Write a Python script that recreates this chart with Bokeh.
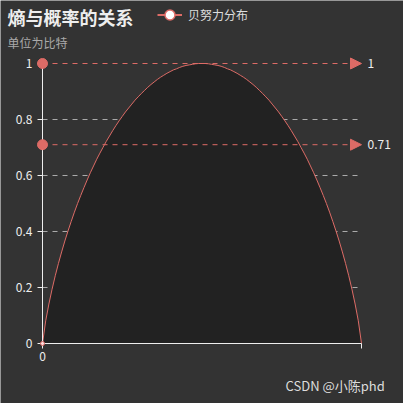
from bokeh.plotting import figure
from bokeh.models import (Range1d, Label, LabelSet, Arrow, NormalHead,
                          Legend, LegendItem, ColumnDataSource)
from bokeh.core.properties import value
from bokeh.embed import file_html
from bokeh.resources import INLINE

FONT = "Noto Sans CJK SC"

# probability p (category axis 0 .. 1, step 0.01)
p_values = [
    0.00, 0.01, 0.02, 0.03, 0.04, 0.05, 0.06, 0.07, 0.08, 0.09,
    0.10, 0.11, 0.12, 0.13, 0.14, 0.15, 0.16, 0.17, 0.18, 0.19,
    0.20, 0.21, 0.22, 0.23, 0.24, 0.25, 0.26, 0.27, 0.28, 0.29,
    0.30, 0.31, 0.32, 0.33, 0.34, 0.35, 0.36, 0.37, 0.38, 0.39,
    0.40, 0.41, 0.42, 0.43, 0.44, 0.45, 0.46, 0.47, 0.48, 0.49,
    0.50,
    0.51, 0.52, 0.53, 0.54, 0.55, 0.56, 0.57, 0.58, 0.59, 0.60,
    0.61, 0.62, 0.63, 0.64, 0.65, 0.66, 0.67, 0.68, 0.69, 0.70,
    0.71, 0.72, 0.73, 0.74, 0.75, 0.76, 0.77, 0.78, 0.79, 0.80,
    0.81, 0.82, 0.83, 0.84, 0.85, 0.86, 0.87, 0.88, 0.89, 0.90,
    0.91, 0.92, 0.93, 0.94, 0.95, 0.96, 0.97, 0.98, 0.99, 1.00,
]

# entropy (bits) of the Bernoulli distribution
entropy = [
    0.000, 0.081, 0.141, 0.194, 0.242, 0.286, 0.327, 0.366, 0.402, 0.436,
    0.469, 0.500, 0.529, 0.557, 0.584, 0.610, 0.634, 0.658, 0.680, 0.701,
    0.722, 0.741, 0.760, 0.778, 0.795, 0.811, 0.827, 0.841, 0.855, 0.869,
    0.881, 0.893, 0.904, 0.915, 0.925, 0.934, 0.943, 0.951, 0.958, 0.965,
    0.971, 0.977, 0.981, 0.986, 0.990, 0.993, 0.995, 0.997, 0.999, 1.000,
    1.000,
    1.000, 0.999, 0.997, 0.995, 0.993, 0.990, 0.986, 0.981, 0.977, 0.971,
    0.965, 0.958, 0.951, 0.943, 0.934, 0.925, 0.915, 0.904, 0.893, 0.881,
    0.869, 0.855, 0.841, 0.827, 0.811, 0.795, 0.778, 0.760, 0.741, 0.722,
    0.701, 0.680, 0.658, 0.634, 0.610, 0.584, 0.557, 0.529, 0.500, 0.469,
    0.436, 0.402, 0.366, 0.327, 0.286, 0.242, 0.194, 0.141, 0.081, 0.000,
]

mark_values = [1, 0.71]
mark_labels = ["1", "0.71"]

y_ticks = [0, 0.2, 0.4, 0.6, 0.8, 1]
y_tick_labels = ["0", "0.2", "0.4", "0.6", "0.8", "1"]
x_ticks = [0, 1]
x_tick_labels = ["0", ""]

title_text = "熵与概率的关系"
subtitle_text = "单位为比特"
series_name = "贝努力分布"
watermark = "CSDN @小陈phd"

RED = "#dd6b66"
BG = "#333333"
TXT = "#eeeeee"

# canvas layout (pixels): plot area spans x 42..361, y 63..343 of a 403x403 canvas
W = H = 403
LEFT, RIGHT, TOP, BOTTOM = 42, 361, 63, 343
xs = (RIGHT - LEFT)            # px per unit x
ys = (BOTTOM - TOP)            # px per unit y
x_range = Range1d(-LEFT / xs, 1 + (W - RIGHT) / xs)
y_range = Range1d(-(H - BOTTOM) / ys, 1 + TOP / ys)

p = figure(width=W, height=H, output_backend="svg", toolbar_location=None,
           x_range=x_range, y_range=y_range, min_border=0)
p.background_fill_color = BG
p.border_fill_color = BG
p.outline_line_color = None
p.title.visible = False
p.xaxis.visible = False
p.yaxis.visible = False
p.grid.visible = False

x0, x1 = x_ticks[0], x_ticks[-1]
y0, y1 = y_ticks[0], y_ticks[-1]

# grid lines
p.segment(x0=[x0] * (len(y_ticks) - 2), x1=[x1] * (len(y_ticks) - 2),
          y0=y_ticks[1:-1], y1=y_ticks[1:-1],
          line_color="#aaaaaa", line_width=1, line_dash="5 5")

# area + line
src = ColumnDataSource(dict(x=p_values, y=entropy))
p.varea(x="x", y1=0, y2="y", source=src, fill_color="#222222")
line_r = p.line("x", "y", source=src, line_color=RED, line_width=1)

# axes
p.segment(x0=[x0, x0], y0=[y0, y0], x1=[x0, x1], y1=[y1, y0], line_color=TXT, line_width=1)
p.ray(x=[x0] * len(y_ticks), y=y_ticks, length=5, length_units="screen", angle=3.14159265,
      line_color=TXT, line_width=1)
p.ray(x=x_ticks, y=[y0] * len(x_ticks), length=5, length_units="screen", angle=-1.5707963,
      line_color=TXT, line_width=1)
ysrc = ColumnDataSource(dict(x=[x0] * len(y_ticks), y=y_ticks, t=y_tick_labels))
p.add_layout(LabelSet(x="x", y="y", text="t", source=ysrc, x_offset=-10, text_align="right",
                      text_baseline="middle", text_color=TXT, text_font=value(FONT),
                      text_font_size="12px"))
xsrc = ColumnDataSource(dict(x=x_ticks, y=[y0] * len(x_ticks), t=x_tick_labels))
p.add_layout(LabelSet(x="x", y="y", text="t", source=xsrc, y_offset=-13, text_align="center",
                      text_baseline="middle", text_color=TXT, text_font=value(FONT),
                      text_font_size="12px"))

p.scatter([p_values[0]], [entropy[0]], size=4, fill_color="#ffdddd", line_color=RED)

# mark lines: dashed segments + arrow heads + start circles + labels
msrc = ColumnDataSource(dict(x0=[x0] * len(mark_values), x1=[x1] * len(mark_values),
                             y=mark_values, label=mark_labels))
p.segment(x0="x0", y0="y", x1="x1", y1="y", source=msrc,
          line_color=RED, line_width=1, line_dash="5 5")
p.add_layout(Arrow(x_start="x0", y_start="y", x_end="x1", y_end="y", source=msrc,
                   line_alpha=0,
                   end=NormalHead(size=11, fill_color=RED, line_color=RED, line_width=1)))
p.scatter("x0", "y", source=msrc, size=10, fill_color=RED, line_color=RED)
p.add_layout(LabelSet(x="x1", y="y", text="label", source=msrc, x_offset=6,
                      text_baseline="middle", text_color=TXT, text_font=value(FONT),
                      text_font_size="12px"))

# legend
leg_line = p.line([-2, -1.9], [-1, -1], line_color=RED, line_width=2)
leg_pt = p.scatter([-2], [-1], size=10, fill_color="white", line_color=RED, line_width=1.5)
legend = Legend(items=[LegendItem(label=series_name, renderers=[leg_line, leg_pt])],
                location=(157, H - 14 - 12.5), orientation="horizontal",
                glyph_width=25, glyph_height=25, label_height=25, label_standoff=6,
                padding=0, margin=0, spacing=0,
                border_line_color=None, background_fill_alpha=0,
                label_text_color="#dddddd", label_text_font=FONT, label_text_font_size="12px")
p.add_layout(legend)

# titles (screen units from the canvas bottom-left)
p.add_layout(Label(x=7, y=H - 16.5, x_units="screen", y_units="screen", text=title_text,
                   text_baseline="middle", text_color=TXT, text_font=FONT,
                   text_font_size="18px", text_font_style="bold"))
p.add_layout(Label(x=7, y=H - 42, x_units="screen", y_units="screen", text=subtitle_text,
                   text_baseline="middle", text_color="#aaaaaa", text_font=FONT,
                   text_font_size="12px"))
p.add_layout(Label(x=285, y=H - 385, x_units="screen", y_units="screen", text=watermark,
                   text_baseline="middle", text_color="#dddddd", text_font=FONT,
                   text_font_size="13px"))

open("out.html", "w").write(file_html(p, INLINE))
